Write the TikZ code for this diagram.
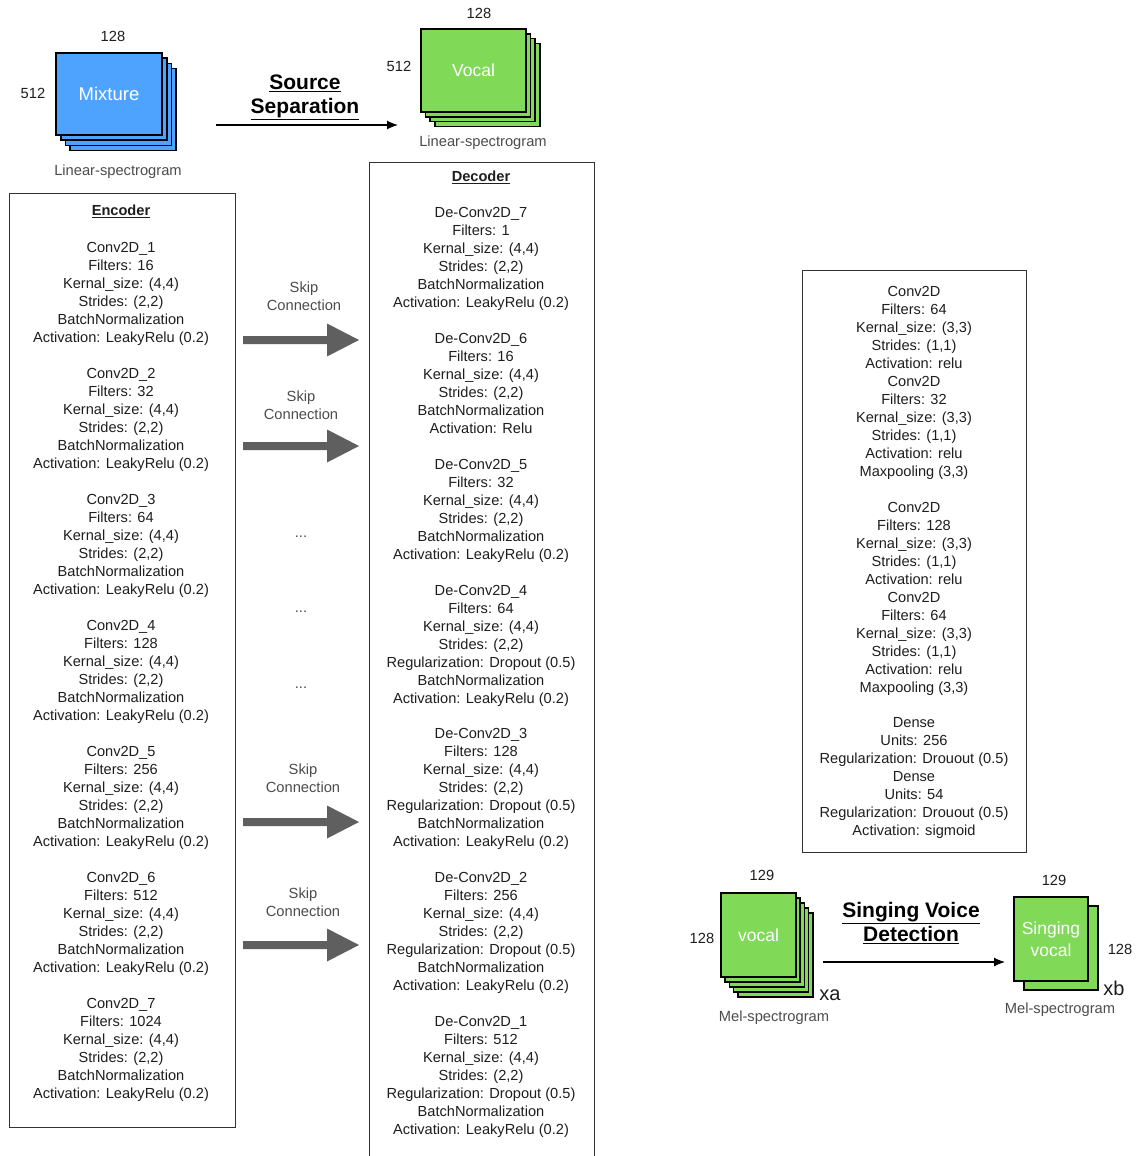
\documentclass[tikz,border=0pt]{standalone}
\usepackage{fontspec}
\setmainfont{Liberation Sans}
\usetikzlibrary{arrows.meta,calc}
\definecolor{mixblue}{RGB}{77,163,255}
\definecolor{vocgreen}{RGB}{128,217,87}
\definecolor{skipgray}{RGB}{95,95,95}
\definecolor{txt}{RGB}{30,30,30}

\tikzset{
  layer/.style={draw=black, line width=1.6pt},
  front/.style={layer, inner sep=0pt, text=white, align=center,
                font=\fontsize{17.5}{22}\selectfont},
  body/.style={font=\fontsize{14.6}{18}\selectfont, align=center, text=txt,
               inner sep=0pt, anchor=north},
  boxtitle/.style={font=\fontsize{14.6}{18}\selectfont\bfseries, text=txt, inner sep=0pt},
  dim/.style={font=\fontsize{14.7}{16}\selectfont, text=txt, inner sep=0pt},
  mult/.style={font=\fontsize{20}{22}\selectfont, text=txt, inner sep=0pt},
  caption/.style={font=\fontsize{14.7}{16}\selectfont, text=black!70, inner sep=0pt},
  skiplab/.style={font=\fontsize{14.7}{18}\selectfont, align=center, text=black!70, inner sep=0pt},
  bigtitle/.style={font=\fontsize{21}{25}\selectfont\bfseries, align=center, text=black, inner sep=0pt},
  frame/.style={draw=black!80, line width=0.9pt},
  flow/.style={draw=black, line width=1.2pt, -{Latex[length=11pt,width=9pt]}},
  skiparrow/.style={fill=skipgray}
}

% back layers of a stacked spectrogram: centre x, centre y, width, height,
% number of layers, step x, step y, colour
\newcommand\drawlayers[8]{%
  \foreach \k in {#5,...,1}{%
    \draw[layer,fill=#8] ({#1-#3/2+\k*#6},{#2-#4/2+\k*#7}) rectangle +(#3,#4);}}

% thick grey skip-connection arrow centred at height #1
\newcommand\skipshape[1]{%
  \fill[skiparrow] (243,#1-4) -- (327,#1-4) -- (327,#1-16.5) -- (359,#1)
    -- (327,#1+16.5) -- (327,#1+4) -- (243,#1+4) -- cycle;}

\begin{document}
\begin{tikzpicture}[x=1pt,y=-1pt]
\useasboundingbox (0,0) rectangle (1135,1156);
\fill[white] (0,0) rectangle (1135,1156);

% ---------- input / output of source separation ----------
\drawlayers{109}{94}{106}{82}{3}{4.7}{5.2}{mixblue}
\node[front, fill=mixblue, minimum width=106pt, minimum height=82pt,
      font=\fontsize{18.5}{22}\selectfont] (mix) at (109,94) {Mixture};
\node[dim] (mixw) at (113,36) {128};
\node[dim] (mixh) at (33,93) {512};
\node[caption] (mixcap) at (118,172) {Linear-spectrogram};

\drawlayers{473.5}{70.5}{105}{83}{3}{4.6}{4.8}{vocgreen}
\node[front, fill=vocgreen, minimum width=105pt, minimum height=83pt] (voc) at (473.5,70.5) {Vocal};
\node[dim] (vocw) at (479,13) {128};
\node[dim] (voch) at (399,66) {512};
\node[caption] (voccap) at (483,143) {Linear-spectrogram};

\node[bigtitle] (sstitle) at (305,97) {\underline{Source}\\[-1pt]\underline{Separation}};
\coordinate (ssA) at (216,125);
\coordinate (ssB) at (398,125);
\draw[flow] (ssA) -- (ssB);

% ---------- encoder ----------
\draw[frame] (9,193) rectangle (235,1127);
\node[boxtitle] (enctitle) at (121,211) {\underline{Encoder}};
\node[body] (enc1) at (121,241.7) {Conv2D\_1\\Filters: 16\\Kernal\_size: (4,4)\\Strides: (2,2)\\BatchNormalization\\Activation: LeakyRelu (0.2)};
\node[body] (enc2) at (121,367.7) {Conv2D\_2\\Filters: 32\\Kernal\_size: (4,4)\\Strides: (2,2)\\BatchNormalization\\Activation: LeakyRelu (0.2)};
\node[body] (enc3) at (121,493.7) {Conv2D\_3\\Filters: 64\\Kernal\_size: (4,4)\\Strides: (2,2)\\BatchNormalization\\Activation: LeakyRelu (0.2)};
\node[body] (enc4) at (121,619.7) {Conv2D\_4\\Filters: 128\\Kernal\_size: (4,4)\\Strides: (2,2)\\BatchNormalization\\Activation: LeakyRelu (0.2)};
\node[body] (enc5) at (121,745.7) {Conv2D\_5\\Filters: 256\\Kernal\_size: (4,4)\\Strides: (2,2)\\BatchNormalization\\Activation: LeakyRelu (0.2)};
\node[body] (enc6) at (121,871.7) {Conv2D\_6\\Filters: 512\\Kernal\_size: (4,4)\\Strides: (2,2)\\BatchNormalization\\Activation: LeakyRelu (0.2)};
\node[body] (enc7) at (121,997.7) {Conv2D\_7\\Filters: 1024\\Kernal\_size: (4,4)\\Strides: (2,2)\\BatchNormalization\\Activation: LeakyRelu (0.2)};

% ---------- skip connections ----------
\node[skiplab] (skip1) at (304,296) {Skip\\Connection};
\skipshape{340}
\node[skiplab] (skip2) at (301,405) {Skip\\Connection};
\skipshape{446}
\node[skiplab] (dots1) at (301,537) {...};
\node[skiplab] (dots2) at (301,612) {...};
\node[skiplab] (dots3) at (301,688) {...};
\node[skiplab] (skip3) at (303,778) {Skip\\Connection};
\skipshape{822}
\node[skiplab] (skip4) at (303,902) {Skip\\Connection};
\skipshape{945}

% ---------- decoder ----------
\draw[frame] (369,1160) -- (369,162) -- (594,162) -- (594,1160);
\node[boxtitle] (dectitle) at (481,177) {\underline{Decoder}};
\node[body] (dec7) at (481,206.7) {De-Conv2D\_7\\Filters: 1\\Kernal\_size: (4,4)\\Strides: (2,2)\\BatchNormalization\\Activation: LeakyRelu (0.2)};
\node[body] (dec6) at (481,332.7) {De-Conv2D\_6\\Filters: 16\\Kernal\_size: (4,4)\\Strides: (2,2)\\BatchNormalization\\Activation: Relu};
\node[body] (dec5) at (481,458.7) {De-Conv2D\_5\\Filters: 32\\Kernal\_size: (4,4)\\Strides: (2,2)\\BatchNormalization\\Activation: LeakyRelu (0.2)};
\node[body] (dec4) at (481,584.7) {De-Conv2D\_4\\Filters: 64\\Kernal\_size: (4,4)\\Strides: (2,2)\\Regularization: Dropout (0.5)\\BatchNormalization\\Activation: LeakyRelu (0.2)};
\node[body] (dec3) at (481,727.7) {De-Conv2D\_3\\Filters: 128\\Kernal\_size: (4,4)\\Strides: (2,2)\\Regularization: Dropout (0.5)\\BatchNormalization\\Activation: LeakyRelu (0.2)};
\node[body] (dec2) at (481,871.7) {De-Conv2D\_2\\Filters: 256\\Kernal\_size: (4,4)\\Strides: (2,2)\\Regularization: Dropout (0.5)\\BatchNormalization\\Activation: LeakyRelu (0.2)};
\node[body] (dec1) at (481,1015.7) {De-Conv2D\_1\\Filters: 512\\Kernal\_size: (4,4)\\Strides: (2,2)\\Regularization: Dropout (0.5)\\BatchNormalization\\Activation: LeakyRelu (0.2)};

% ---------- singing voice detection classifier ----------
\draw[frame] (802,270) rectangle (1026,852);
\node[body] (cls1) at (914,285.7) {Conv2D\\Filters: 64\\Kernal\_size: (3,3)\\Strides: (1,1)\\Activation: relu\\Conv2D\\Filters: 32\\Kernal\_size: (3,3)\\Strides: (1,1)\\Activation: relu\\Maxpooling (3,3)};
\node[body] (cls2) at (914,501.7) {Conv2D\\Filters: 128\\Kernal\_size: (3,3)\\Strides: (1,1)\\Activation: relu\\Conv2D\\Filters: 64\\Kernal\_size: (3,3)\\Strides: (1,1)\\Activation: relu\\Maxpooling (3,3)};
\node[body] (cls3) at (914,717.7) {Dense\\Units: 256\\Regularization: Drouout (0.5)\\Dense\\Units: 54\\Regularization: Drouout (0.5)\\Activation: sigmoid};

% ---------- mel-spectrogram input / output ----------
\drawlayers{758.5}{935}{75}{84}{4}{4.2}{5}{vocgreen}
\node[front, fill=vocgreen, minimum width=75pt, minimum height=84pt] (mel) at (758.5,935) {vocal};
\node[dim] (melw) at (762,875) {129};
\node[dim] (melh) at (702,938) {128};
\node[mult] (xa) at (830,995) {xa};
\node[caption] (melcap) at (774,1018) {Mel-spectrogram};

\drawlayers{1051}{939}{74}{84}{1}{10}{9}{vocgreen}
\node[front, fill=vocgreen, minimum width=74pt, minimum height=84pt] (sing) at (1051,939) {Singing\\vocal};
\node[dim] (singw) at (1054,880) {129};
\node[dim] (singh) at (1120,949) {128};
\node[mult] (xb) at (1114,988) {xb};
\node[caption] (singcap) at (1060,1010) {Mel-spectrogram};

\node[bigtitle] (svdtitle) at (911,923) {\underline{Singing Voice}\\[-1pt]\underline{Detection}};
\coordinate (svA) at (823,962);
\coordinate (svB) at (1005,962);
\draw[flow] (svA) -- (svB);
\end{tikzpicture}
\end{document}
